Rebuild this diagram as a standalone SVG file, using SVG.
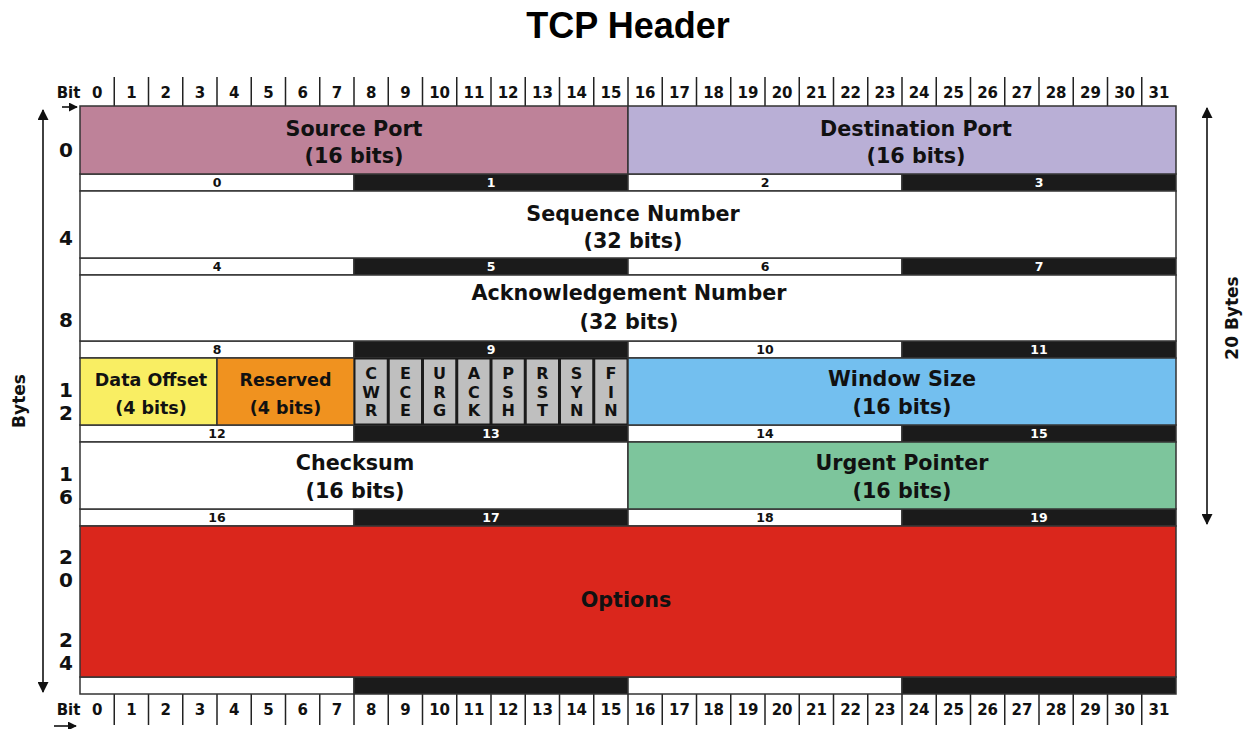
<svg xmlns="http://www.w3.org/2000/svg" width="1248" height="729" viewBox="0 0 1248 729">
<style>
  .t{font-family:"DejaVu Sans","Liberation Sans",sans-serif;font-weight:bold;fill:#111;text-anchor:middle}
  .f{font-size:20.7px}
  .s{font-size:17.5px}
  .bit{font-size:15px}
  .bn{font-size:12.5px}
  .side{font-size:20px}
  .w{fill:#fff}
  .cell{stroke:#333;stroke-width:1.5}
  .bar{stroke:#333;stroke-width:1.5}
  .tick{stroke:#222;stroke-width:1.5}
  .flag{fill:#bfbfbf}
  .fl{font-size:16px}
  .arr{stroke:#111;stroke-width:1.6;fill:none}
</style>
<defs>
  <marker id="ah" viewBox="0 0 10 10" refX="9" refY="5" markerWidth="9" markerHeight="9" markerUnits="userSpaceOnUse" orient="auto">
    <path d="M0,0 L10,5 L0,10 z" fill="#111"/>
  </marker>
  <marker id="ahs" viewBox="0 0 10 10" refX="9" refY="5" markerWidth="13" markerHeight="11" markerUnits="userSpaceOnUse" orient="auto">
    <path d="M0,0 L10,5 L0,10 z" fill="#111"/>
  </marker>
</defs>
<rect width="1248" height="729" fill="#fff"/>
<text id="title" x="628" y="38" style="font-family:'Liberation Sans',Arial,sans-serif;font-weight:bold;font-size:36px;text-anchor:middle;fill:#000">TCP Header</text>

<!-- top bit ruler -->
<g id="bits-top">
  <text class="t bit" x="68.5" y="98">Bit</text>
  <g class="tick">
    <path d="M114.25,77V106M148.5,77V106M182.75,77V106M217,77V106M251.25,77V106M285.5,77V106M319.75,77V106M354,77V106M388.25,77V106M422.5,77V106M456.75,77V106M491,77V106M525.25,77V106M559.5,77V106M593.75,77V106M628,77V106M662.25,77V106M696.5,77V106M730.75,77V106M765,77V106M799.25,77V106M833.5,77V106M867.75,77V106M902,77V106M936.25,77V106M970.5,77V106M1004.75,77V106M1039,77V106M1073.25,77V106M1107.5,77V106M1141.75,77V106"/>
  </g>
  <g class="t bit">
    <text x="97.1" y="98">0</text><text x="131.4" y="98">1</text><text x="165.6" y="98">2</text><text x="199.9" y="98">3</text>
    <text x="234.1" y="98">4</text><text x="268.4" y="98">5</text><text x="302.6" y="98">6</text><text x="336.9" y="98">7</text>
    <text x="371.1" y="98">8</text><text x="405.4" y="98">9</text><text x="439.6" y="98">10</text><text x="473.9" y="98">11</text>
    <text x="508.1" y="98">12</text><text x="542.4" y="98">13</text><text x="576.6" y="98">14</text><text x="610.9" y="98">15</text>
    <text x="645.1" y="98">16</text><text x="679.4" y="98">17</text><text x="713.6" y="98">18</text><text x="747.9" y="98">19</text>
    <text x="782.1" y="98">20</text><text x="816.4" y="98">21</text><text x="850.6" y="98">22</text><text x="884.9" y="98">23</text>
    <text x="919.1" y="98">24</text><text x="953.4" y="98">25</text><text x="987.6" y="98">26</text><text x="1021.9" y="98">27</text>
    <text x="1056.1" y="98">28</text><text x="1090.4" y="98">29</text><text x="1124.6" y="98">30</text><text x="1158.9" y="98">31</text>
  </g>
</g>

<!-- bottom bit ruler -->
<g id="bits-bottom">
  <text class="t bit" x="68.5" y="715">Bit</text>
  <g class="tick">
    <path d="M114.25,694V725M148.5,694V725M182.75,694V725M217,694V725M251.25,694V725M285.5,694V725M319.75,694V725M354,694V725M388.25,694V725M422.5,694V725M456.75,694V725M491,694V725M525.25,694V725M559.5,694V725M593.75,694V725M628,694V725M662.25,694V725M696.5,694V725M730.75,694V725M765,694V725M799.25,694V725M833.5,694V725M867.75,694V725M902,694V725M936.25,694V725M970.5,694V725M1004.75,694V725M1039,694V725M1073.25,694V725M1107.5,694V725M1141.75,694V725"/>
  </g>
  <g class="t bit">
    <text x="97.1" y="715">0</text><text x="131.4" y="715">1</text><text x="165.6" y="715">2</text><text x="199.9" y="715">3</text>
    <text x="234.1" y="715">4</text><text x="268.4" y="715">5</text><text x="302.6" y="715">6</text><text x="336.9" y="715">7</text>
    <text x="371.1" y="715">8</text><text x="405.4" y="715">9</text><text x="439.6" y="715">10</text><text x="473.9" y="715">11</text>
    <text x="508.1" y="715">12</text><text x="542.4" y="715">13</text><text x="576.6" y="715">14</text><text x="610.9" y="715">15</text>
    <text x="645.1" y="715">16</text><text x="679.4" y="715">17</text><text x="713.6" y="715">18</text><text x="747.9" y="715">19</text>
    <text x="782.1" y="715">20</text><text x="816.4" y="715">21</text><text x="850.6" y="715">22</text><text x="884.9" y="715">23</text>
    <text x="919.1" y="715">24</text><text x="953.4" y="715">25</text><text x="987.6" y="715">26</text><text x="1021.9" y="715">27</text>
    <text x="1056.1" y="715">28</text><text x="1090.4" y="715">29</text><text x="1124.6" y="715">30</text><text x="1158.9" y="715">31</text>
  </g>
</g>

<!-- byte bars -->
<g id="byte-bars">
  <g class="bar">
    <rect x="80" y="174" width="274" height="17" fill="#fff"/><rect x="354" y="174" width="274" height="17" fill="#1b1b1b"/><rect x="628" y="174" width="274" height="17" fill="#fff"/><rect x="902" y="174" width="274" height="17" fill="#1b1b1b"/>
    <rect x="80" y="258" width="274" height="17" fill="#fff"/><rect x="354" y="258" width="274" height="17" fill="#1b1b1b"/><rect x="628" y="258" width="274" height="17" fill="#fff"/><rect x="902" y="258" width="274" height="17" fill="#1b1b1b"/>
    <rect x="80" y="341" width="274" height="17" fill="#fff"/><rect x="354" y="341" width="274" height="17" fill="#1b1b1b"/><rect x="628" y="341" width="274" height="17" fill="#fff"/><rect x="902" y="341" width="274" height="17" fill="#1b1b1b"/>
    <rect x="80" y="425" width="274" height="17" fill="#fff"/><rect x="354" y="425" width="274" height="17" fill="#1b1b1b"/><rect x="628" y="425" width="274" height="17" fill="#fff"/><rect x="902" y="425" width="274" height="17" fill="#1b1b1b"/>
    <rect x="80" y="509" width="274" height="17" fill="#fff"/><rect x="354" y="509" width="274" height="17" fill="#1b1b1b"/><rect x="628" y="509" width="274" height="17" fill="#fff"/><rect x="902" y="509" width="274" height="17" fill="#1b1b1b"/>
    <rect x="80" y="677" width="274" height="17" fill="#fff"/><rect x="354" y="677" width="274" height="17" fill="#1b1b1b"/><rect x="628" y="677" width="274" height="17" fill="#fff"/><rect x="902" y="677" width="274" height="17" fill="#1b1b1b"/>
  </g>
  <g class="t bn">
    <text x="217" y="187">0</text><text x="491" y="187" class="w">1</text><text x="765" y="187">2</text><text x="1039" y="187" class="w">3</text>
    <text x="217" y="271">4</text><text x="491" y="271" class="w">5</text><text x="765" y="271">6</text><text x="1039" y="271" class="w">7</text>
    <text x="217" y="354">8</text><text x="491" y="354" class="w">9</text><text x="765" y="354">10</text><text x="1039" y="354" class="w">11</text>
    <text x="217" y="438">12</text><text x="491" y="438" class="w">13</text><text x="765" y="438">14</text><text x="1039" y="438" class="w">15</text>
    <text x="217" y="522">16</text><text x="491" y="522" class="w">17</text><text x="765" y="522">18</text><text x="1039" y="522" class="w">19</text>
  </g>
</g>

<g id="source-port">
  <rect class="cell" x="80" y="106" width="548" height="68" fill="#be8299"/>
  <text class="t f" x="354" y="136">Source Port</text>
  <text class="t f" x="354" y="163">(16 bits)</text>
</g>
<g id="destination-port">
  <rect class="cell" x="628" y="106" width="548" height="68" fill="#b9afd6"/>
  <text class="t f" x="916" y="136">Destination Port</text>
  <text class="t f" x="916" y="163">(16 bits)</text>
</g>
<g id="sequence-number">
  <rect class="cell" x="80" y="191" width="1096" height="67" fill="#fff"/>
  <text class="t f" x="633" y="221">Sequence Number</text>
  <text class="t f" x="633" y="248">(32 bits)</text>
</g>
<g id="ack-number">
  <rect class="cell" x="80" y="275" width="1096" height="66" fill="#fff"/>
  <text class="t f" x="629" y="300">Acknowledgement Number</text>
  <text class="t f" x="629" y="329">(32 bits)</text>
</g>
<g id="data-offset">
  <rect class="cell" x="80" y="358" width="137" height="67" fill="#f9ee63"/>
  <text class="t s" x="151" y="386">Data Offset</text>
  <text class="t s" x="151" y="414">(4 bits)</text>
</g>
<g id="reserved">
  <rect class="cell" x="217" y="358" width="137" height="67" fill="#f0921f"/>
  <text class="t s" x="285.5" y="386">Reserved</text>
  <text class="t s" x="285.5" y="414">(4 bits)</text>
</g>
<g id="flags">
  <rect x="354" y="358" width="274" height="67" fill="#1b1b1b"/>
  <g class="flag">
    <rect x="355.5" y="359.5" width="31.25" height="64"/><rect x="389.75" y="359.5" width="31.25" height="64"/>
    <rect x="424" y="359.5" width="31.25" height="64"/><rect x="458.25" y="359.5" width="31.25" height="64"/>
    <rect x="492.5" y="359.5" width="31.25" height="64"/><rect x="526.75" y="359.5" width="31.25" height="64"/>
    <rect x="561" y="359.5" width="31.25" height="64"/><rect x="595.25" y="359.5" width="31.25" height="64"/>
  </g>
  <g class="t fl">
    <text x="371.1" y="379">C</text><text x="371.1" y="397.5">W</text><text x="371.1" y="416">R</text>
    <text x="405.4" y="379">E</text><text x="405.4" y="397.5">C</text><text x="405.4" y="416">E</text>
    <text x="439.6" y="379">U</text><text x="439.6" y="397.5">R</text><text x="439.6" y="416">G</text>
    <text x="473.9" y="379">A</text><text x="473.9" y="397.5">C</text><text x="473.9" y="416">K</text>
    <text x="508.1" y="379">P</text><text x="508.1" y="397.5">S</text><text x="508.1" y="416">H</text>
    <text x="542.4" y="379">R</text><text x="542.4" y="397.5">S</text><text x="542.4" y="416">T</text>
    <text x="576.6" y="379">S</text><text x="576.6" y="397.5">Y</text><text x="576.6" y="416">N</text>
    <text x="610.9" y="379">F</text><text x="610.9" y="397.5">I</text><text x="610.9" y="416">N</text>
  </g>
</g>
<g id="window-size">
  <rect class="cell" x="628" y="358" width="548" height="67" fill="#73bfef"/>
  <text class="t f" x="902" y="386">Window Size</text>
  <text class="t f" x="902" y="414">(16 bits)</text>
</g>
<g id="checksum">
  <rect class="cell" x="80" y="442" width="548" height="67" fill="#fff"/>
  <text class="t f" x="355" y="470">Checksum</text>
  <text class="t f" x="355" y="498">(16 bits)</text>
</g>
<g id="urgent-pointer">
  <rect class="cell" x="628" y="442" width="548" height="67" fill="#7dc59c"/>
  <text class="t f" x="902" y="470">Urgent Pointer</text>
  <text class="t f" x="902" y="498">(16 bits)</text>
</g>
<g id="options">
  <rect class="cell" x="80" y="526" width="1096" height="151" fill="#da261c"/>
  <text class="t f" x="626" y="607">Options</text>
</g>

<!-- side labels -->
<g id="byte-offsets" class="t side">
  <text x="66" y="157">0</text>
  <text x="66" y="245">4</text>
  <text x="66" y="327">8</text>
  <text x="66" y="397">1</text><text x="66" y="420">2</text>
  <text x="66" y="481">1</text><text x="66" y="504">6</text>
  <text x="66" y="564">2</text><text x="66" y="587">0</text>
  <text x="66" y="647">2</text><text x="66" y="670">4</text>
</g>
<text id="bytes-label" class="t" style="font-size:17px" transform="translate(25,401) rotate(-90)">Bytes</text>
<text id="bytes20-label" class="t" style="font-size:17px" transform="translate(1238,318) rotate(-90)">20 Bytes</text>

<g id="connectors">
  <path class="arr" d="M43,400V110" marker-end="url(#ahs)"/>
  <path class="arr" d="M43,400V692" marker-end="url(#ahs)"/>
  <path class="arr" d="M1207,316V108" marker-end="url(#ahs)"/>
  <path class="arr" d="M1207,316V524" marker-end="url(#ahs)"/>
  <path class="arr" d="M62,107H77" marker-end="url(#ah)"/>
  <path class="arr" d="M54,726H76" marker-end="url(#ah)"/>
</g>
</svg>
